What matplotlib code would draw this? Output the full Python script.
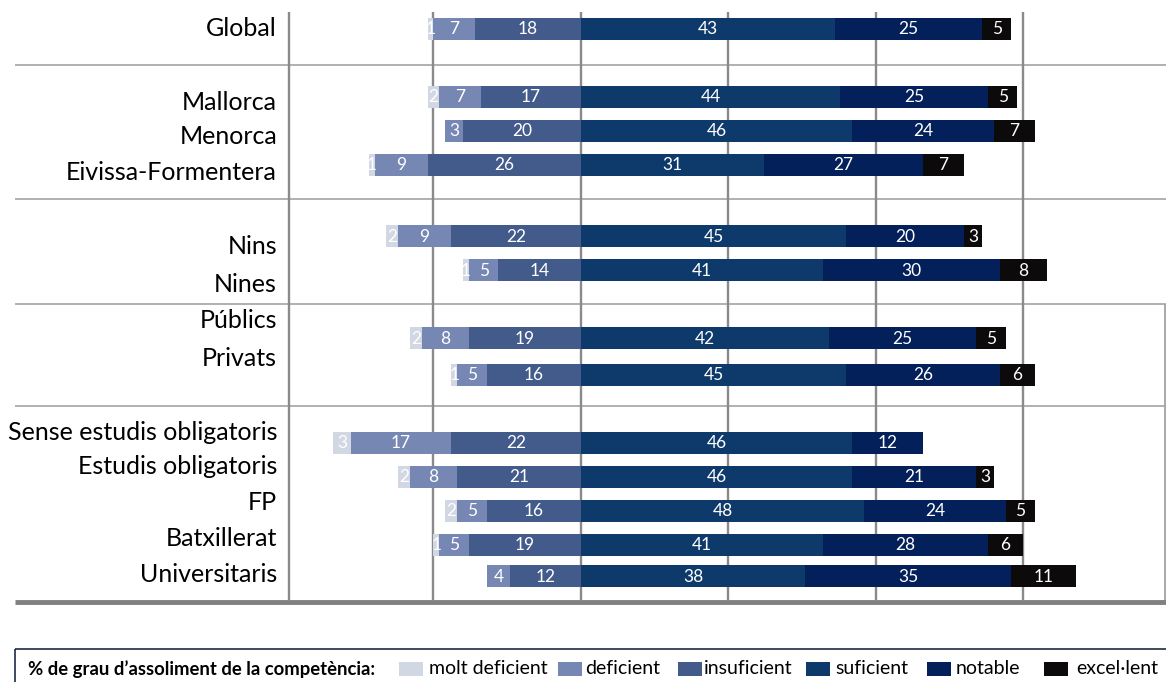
import matplotlib
matplotlib.use("Agg")
import matplotlib.pyplot as plt
from matplotlib.patches import Rectangle

# ---------------- data ----------------
categories = ["Global", "Mallorca", "Menorca", "Eivissa-Formentera", "Nins", "Nines",
              "Públics", "Privats", "Sense estudis obligatoris", "Estudis obligatoris",
              "FP", "Batxillerat", "Universitaris"]
molt_deficient = [1, 2, 0, 1, 2, 1, 2, 1, 3, 2, 2, 1, 0]
deficient      = [7, 7, 3, 9, 9, 5, 8, 5, 17, 8, 5, 5, 4]
insuficient    = [18, 17, 20, 26, 22, 14, 19, 16, 22, 21, 16, 19, 12]
suficient      = [43, 44, 46, 31, 45, 41, 42, 45, 46, 46, 48, 41, 38]
notable        = [25, 25, 24, 27, 20, 30, 25, 26, 12, 21, 24, 28, 35]
excellent      = [5, 5, 7, 7, 3, 8, 5, 6, 0, 3, 5, 6, 11]
level_names = ["molt deficient", "deficient", "insuficient", "suficient", "notable", "excel·lent"]
legend_title = "% de grau d’assoliment de la competència:"

# ---------------- style / layout ----------------
colors = ["#d2d7e4", "#7787b3", "#435b8b", "#0e3a6b", "#03205a", "#0c0a0b"]
FONT = "Lato"
W, H = 1166, 682
row_y = [29, 97, 131, 165, 236, 270, 338, 375, 443, 477, 511, 545, 576]
label_y = [29, 102, 137, 173, 247, 284, 320, 358, 432, 467, 502, 538, 575]
separators_y = [65, 199, 304, 406]
bar_h = 22

fig = plt.figure(figsize=(W / 100, H / 100), dpi=100)
fig.patch.set_facecolor("white")

bg = fig.add_axes([0, 0, 1, 1], zorder=0)
bg.set_xlim(0, W)
bg.set_ylim(H, 0)
bg.axis("off")

ax = fig.add_axes([289 / W, 1 - 601 / H, (1166 - 289) / W, (601 - 8) / H], zorder=1)
ax.set_xlim(-49.5, 99.2)
ax.set_ylim(601, 8)
ax.axis("off")

# grid & frame lines
ax.vlines([-25, 0, 25, 50, 75], 12, 601, color="#8a8a8a", lw=1.7, zorder=0)
ax.vlines([-49.5], 12, 601, color="#8a8a8a", lw=1.7, zorder=0, clip_on=False)
bg.vlines([1165], 304, 601, color="#9a9a9a", lw=1.2)
bg.hlines(separators_y, 15, 1166, color="#a3a3a3", lw=1.2)
bg.hlines([602], 15, 1166, color="#808080", lw=3.5)

# bars
series = [molt_deficient, deficient, insuficient, suficient, notable, excellent]
lefts = [-(a + b + c) for a, b, c in zip(molt_deficient, deficient, insuficient)]
for vals, col in zip(series, colors):
    ax.barh(row_y, vals, left=lefts, height=bar_h, color=col, zorder=2, linewidth=0)
    for y, l, v in zip(row_y, lefts, vals):
        if v > 0:
            ax.text(l + v / 2, y + 0.5, str(v), color="white", ha="center", va="center",
                    fontsize=12.5, family=FONT, zorder=3)
    lefts = [l + v for l, v in zip(lefts, vals)]

# row labels
for y, cat in zip(label_y, categories):
    bg.text(277, y, cat, ha="right", va="center", fontsize=18, family=FONT, color="black")

# legend
bg.add_patch(Rectangle((15, 649), 1300, 100, fill=False, edgecolor="#1c2b45", lw=1.2))
bg.text(28, 669, legend_title, ha="left", va="center", fontsize=13.3, family=FONT,
        fontweight="bold", color="black")
patch_x = [399, 558, 678, 806, 927, 1044]
text_x = [429, 585, 704, 835, 956, 1076]
for px, tx, name, col in zip(patch_x, text_x, level_names, colors):
    bg.add_patch(Rectangle((px, 662), 24, 14, facecolor=col, edgecolor="none"))
    bg.text(tx, 669, name, ha="left", va="center", fontsize=14, family=FONT, color="black")

fig.savefig("out.png", dpi=100, facecolor="white")
